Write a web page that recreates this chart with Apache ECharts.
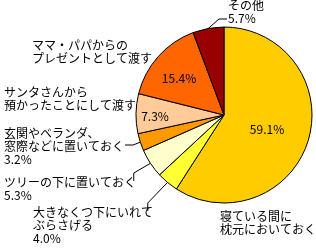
<!DOCTYPE html>
<html><head><meta charset="utf-8">
<script src="https://cdn.jsdelivr.net/npm/echarts@6/dist/echarts.min.js"></script>
<style>html,body{margin:0;padding:0;background:#fff}#c{width:316px;height:250px}</style>
</head><body><div id="c"></div>
<script>
const categories = ['寝ている間に\n枕元においておく','大きなくつ下にいれて\nぶらさげる','ツリーの下に置いておく','玄関やベランダ、\n窓際などに置いておく','サンタさんから\n預かったことにして渡す','ママ・パパからの\nプレゼントとして渡す','その他'];
const values = [59.1, 4.0, 5.3, 3.2, 7.3, 15.4, 5.7];
const colors = ['#FFCC00','#FFFF33','#FFFFCC','#FF9900','#FFCC99','#FF6600','#990000'];
// percent shown inside the slice (true) or under the name (false)
const pctInside = [true,false,false,false,true,true,false];
const hasLeader = [false,true,true,true,false,false,true];
// text block top-left
const labelPos = [[220,210],[33,206],[4,176],[4,127],[4,86],[32,39],[228,-1]];
// percent label centres (inside)
const insidePos = {0:[267,129],4:[155,116],5:[179,78]};
// leader-line end points next to the text
const leaderEnd = {1:[148,212,'right'],2:[134,182,'right'],3:[125,145,'right'],6:[227,19,'left']};

const chart = echarts.init(document.getElementById('c'), null, {renderer:'canvas'});
const font = '"Noto Sans CJK JP", sans-serif';
const labelBase = {fontFamily:font, fontSize:12, color:'#000', lineHeight:13, overflow:'none'};

const pieData = values.map((v,i)=>({
  value: v, name: categories[i], itemStyle:{color: colors[i]},
  label: pctInside[i] ? {show:true, position:'inside', formatter: v.toFixed(1)+'%'} :
         hasLeader[i] ? {show:true, position:'outside', formatter:' ', fontSize:2, lineHeight:2} : {show:false},
  labelLine: {show: hasLeader[i]}
}));
const titles = values.map((v,i)=>({
  text: categories[i] + (pctInside[i] ? '' : '\n'+v.toFixed(1)+'%'),
  left: labelPos[i][0], top: labelPos[i][1], padding: 0, textAlign:'left',
  textStyle:{fontFamily:font, fontSize:12, fontWeight:'normal', color:'#000', lineHeight:13}
}));
chart.setOption({
  animation:false,
  title: titles,
  series:[{
    type:'pie', center:[224,115], radius:[0,88], startAngle:90, clockwise:true,
    itemStyle:{borderColor:'#000', borderWidth:1},
    label:labelBase,
    labelLine:{lineStyle:{color:'#000', width:1}, length:6, length2:8},
    data: pieData,
    labelLayout: function(p){
      const i = p.dataIndex;
      if (pctInside[i]) {
        const q = insidePos[i];
        return {x:q[0], y:q[1], align:'center', verticalAlign:'middle'};
      }
      const q = leaderEnd[i];
      if (!q) return {};
      return {x:q[0], y:q[1], align:q[2], verticalAlign:'middle'};
    }
  }]
});
</script></body></html>
